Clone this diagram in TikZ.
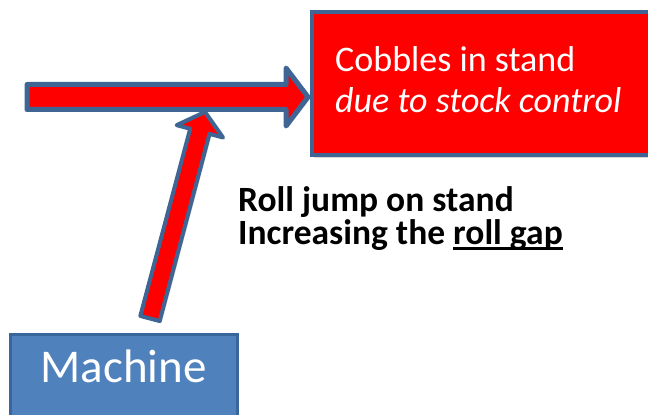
\documentclass[tikz,border=0pt]{standalone}
\usepackage{fontspec}
\setmainfont{Carlito}
\usetikzlibrary{calc,shadows}

\definecolor{alarmred}{HTML}{FF0000}
\definecolor{edgeblue}{HTML}{3F6594}
\definecolor{machfill}{HTML}{4F81BD}
\definecolor{machedge}{HTML}{3A679B}

% thick underline for emphasised words
\newcommand\thickul[1]{\setbox0\hbox{#1}\rlap{\rule[-5pt]{\wd0}{2.6pt}}\box0}

% block arrow: [style]{tail}{tip}{shaft half width}{head half width}{head length}
\newcommand\blockarrow[6][]{%
  \coordinate (ba-h) at ($(#3)!#6!(#2)$);
  \filldraw[#1] ($(#2)!#4!90:(#3)$) -- ($(ba-h)!#4!90:(#3)$)
    -- ($(ba-h)!#5!90:(#3)$) -- (#3) -- ($(ba-h)!#5!-90:(#3)$)
    -- ($(ba-h)!#4!-90:(#3)$) -- ($(#2)!#4!-90:(#3)$) -- cycle;}

\tikzset{
  fatarrow/.style={fill=alarmred, draw=edgeblue, line join=round,
    drop shadow={opacity=0.25, shadow xshift=2pt, shadow yshift=-2pt}},
  faultbox/.style={rectangle, fill=alarmred, draw=edgeblue, line width=4pt,
    inner sep=0pt, minimum width=350pt, minimum height=143pt,
    drop shadow={opacity=0.3, shadow xshift=2pt, shadow yshift=-3pt}},
  sourcebox/.style={rectangle, fill=machfill, draw=machedge, line width=3pt,
    inner xsep=0pt, inner ysep=0pt, minimum width=227pt,
    text height=48pt, text depth=42pt, text=white,
    font=\fontsize{47}{50}\selectfont},
  boxtext/.style={anchor=base west, inner sep=0pt, text=white,
    font=\fontsize{36}{40}\selectfont},
  notetext/.style={anchor=base west, inner sep=0pt, text=black,
    font=\bfseries\fontsize{35.5}{40}\selectfont},
}

\begin{document}
\begin{tikzpicture}[x=1pt, y=1pt]
\useasboundingbox (0,0) rectangle (648,415);

% boxes
\node[faultbox, anchor=north west] (cobble) at (310,405) {};
\node[sourcebox, anchor=base] (mach) at (123.5,32) {Machine};

% texts
\node[boxtext] (cob1) at ($(cobble.north west)+(25,-62)$) {Cobbles in stand};
\node[boxtext] (cob2) at ($(cobble.north west)+(25,-103)$) {\itshape due to stock control};
\node[notetext] (note1) at (238,203) {Roll jump on stand};
\node[notetext] (note2) at (238,170) {Increasing the \thickul{roll gap}};

% arrows
\coordinate (hs) at (27,318);
\coordinate (he) at ($(cobble.west |- hs)+(-2,0)$);
\coordinate (ts) at ($(mach.north)+(26.5,15)$);
\coordinate (te) at ($(hs)+(178,-15)$);

\blockarrow[fatarrow, line width=4pt]{ts}{te}{10pt}{24pt}{20pt}
\blockarrow[fatarrow, line width=5pt]{hs}{he}{12.5pt}{29pt}{22pt}
\end{tikzpicture}
\end{document}
